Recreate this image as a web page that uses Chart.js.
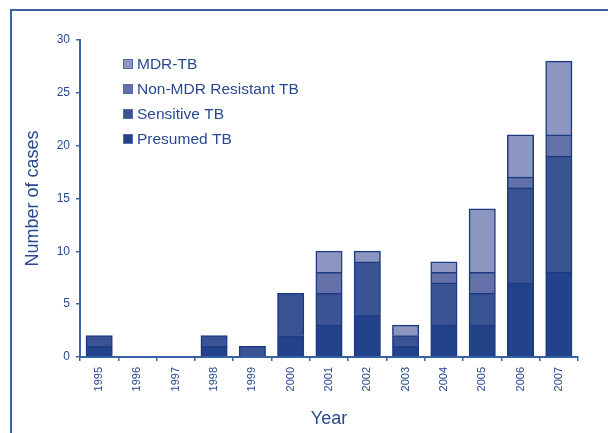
<!DOCTYPE html>
<html>
<head>
<meta charset="utf-8">
<script src="https://cdn.jsdelivr.net/npm/chart.js@4/dist/chart.umd.min.js"></script>
<style>
  html, body { margin: 0; padding: 0; background: #ffffff; }
  #wrap { position: relative; width: 608px; height: 433px; overflow: hidden; background: #fff; }
  #frame { position: absolute; left: 10px; top: 9px; width: 700px; height: 500px;
           border-left: 2px solid #3b62a6; border-top: 2px solid #3b62a6; pointer-events: none; }
  canvas { position: absolute; left: 0; top: 0; }
</style>
</head>
<body>
<div id="wrap">
  <canvas id="c" width="608" height="433"></canvas>
  <div id="frame"></div>
</div>
<script>
const years = ['1995','1996','1997','1998','1999','2000','2001','2002','2003','2004','2005','2006','2007'];
const presumedTB     = [1, 0, 0, 1, 0, 2, 3, 4, 1, 3, 3, 7, 8];
const sensitiveTB    = [1, 0, 0, 1, 1, 4, 3, 5, 1, 4, 3, 9, 11];
const nonMdrResistTB = [0, 0, 0, 0, 0, 0, 2, 0, 0, 1, 2, 1, 2];
const mdrTB          = [0, 0, 0, 0, 0, 0, 2, 1, 1, 1, 6, 4, 7];
const yTicks = [0, 5, 10, 15, 20, 25, 30];

const textColor = '#284990';
const axisColor = '#3b62a6';
const edgeColor = '#1c3a84';
const FONT = '"Liberation Sans", Arial, sans-serif';

const nz = arr => arr.map(v => v === 0 ? null : v);

const datasets = [
  { label: 'Presumed TB', data: nz(presumedTB), backgroundColor: '#22428a' },
  { label: 'Sensitive TB', data: nz(sensitiveTB), backgroundColor: '#3a5393' },
  { label: 'Non-MDR Resistant TB', data: nz(nonMdrResistTB), backgroundColor: '#6470a8' },
  { label: 'MDR-TB', data: nz(mdrTB), backgroundColor: '#8c96c0' }
].map(d => Object.assign(d, {
  borderColor: edgeColor, borderWidth: 1.5, inflateAmount: 0.5,
  barPercentage: 0.68, categoryPercentage: 1.0
}));

const legendPlugin = {
  id: 'insideLegend',
  afterDraw(chart) {
    const ctx = chart.ctx;
    const ds = chart.data.datasets.slice().reverse();
    ctx.save();
    ctx.font = '15.5px ' + FONT;
    ctx.textBaseline = 'middle';
    ctx.textAlign = 'left';
    ds.forEach((d, i) => {
      const cy = 64 + i * 25;
      ctx.fillStyle = d.backgroundColor;
      ctx.fillRect(123, cy - 5, 10, 10);
      ctx.strokeStyle = '#5a6aa8';
      ctx.lineWidth = 1;
      ctx.strokeRect(123.5, cy - 4.5, 9, 9);
      ctx.fillStyle = textColor;
      ctx.fillText(d.label, 137, cy + 1);
    });
    ctx.restore();
  }
};

new Chart(document.getElementById('c'), {
  type: 'bar',
  data: { labels: years, datasets: datasets },
  plugins: [legendPlugin],
  options: {
    responsive: false,
    animation: false,
    devicePixelRatio: 1,
    layout: { padding: { top: 40, right: 30, left: 0, bottom: 0 } },
    plugins: { legend: { display: false }, tooltip: { enabled: false } },
    scales: {
      x: {
        stacked: true,
        offset: true,
        grid: { offset: true, drawOnChartArea: false, drawTicks: true, tickLength: 4, color: axisColor, lineWidth: 1.5 },
        border: { display: true, color: axisColor, width: 2 },
        ticks: { minRotation: 90, maxRotation: 90, color: textColor, padding: 6, font: { family: FONT, size: 11 } },
        title: { display: true, text: 'Year', color: textColor, font: { family: FONT, size: 18 }, padding: { top: 0, bottom: 3 } },
        afterFit: s => { s.height = 76; }
      },
      y: {
        stacked: true,
        min: 0, max: 30,
        afterBuildTicks: s => { s.ticks = yTicks.map(v => ({ value: v })); },
        grid: { drawOnChartArea: false, drawTicks: true, tickLength: 4, color: axisColor, lineWidth: 1.5 },
        border: { display: true, color: axisColor, width: 2 },
        ticks: { color: textColor, padding: 6, font: { family: FONT, size: 12 } },
        title: { display: true, text: 'Number of cases', color: textColor, font: { family: FONT, size: 18 }, padding: { top: 22, bottom: 0 } },
        afterFit: s => { s.width = 80; }
      }
    }
  }
});
</script>
</body>
</html>
